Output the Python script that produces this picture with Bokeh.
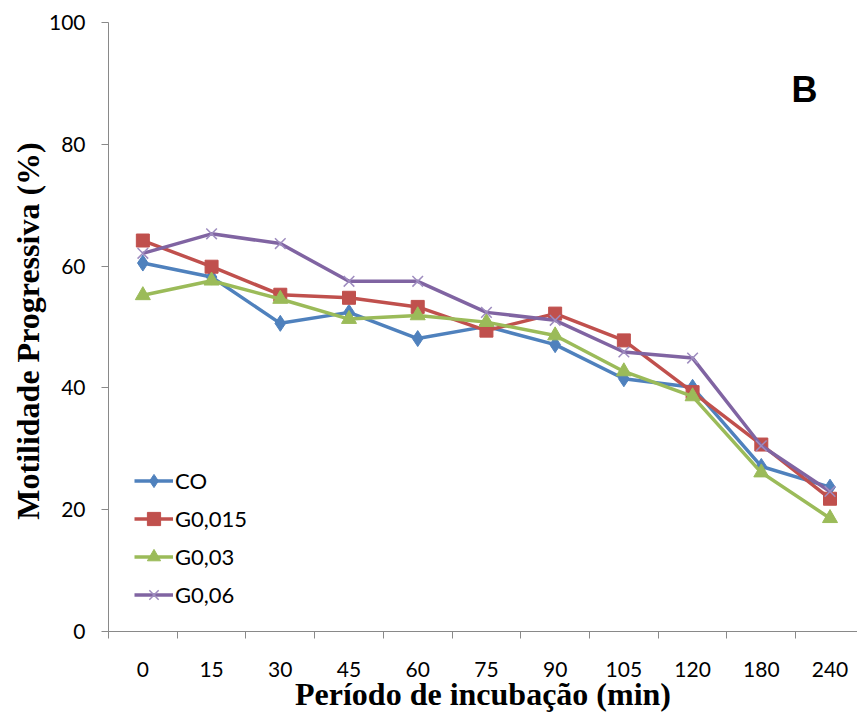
from bokeh.plotting import figure
from bokeh.models import FixedTicker, Range1d, Label
from bokeh.embed import file_html
from bokeh.resources import INLINE

# Incubation periods (min) and progressive motility (%) per treatment
periods = ["0", "15", "30", "45", "60", "75", "90", "105", "120", "180", "240"]
co = [60.5, 58.2, 50.6, 52.4, 48.1, 50.1, 47.1, 41.5, 40.1, 27.1, 23.7]
g0015 = [64.2, 59.9, 55.3, 54.8, 53.3, 49.4, 52.2, 47.8, 39.3, 30.7, 21.8]
g003 = [55.2, 57.6, 54.6, 51.3, 51.9, 50.8, 48.6, 42.7, 38.6, 26.1, 18.6]
g006 = [62.1, 65.3, 63.7, 57.5, 57.5, 52.4, 51.1, 45.9, 44.9, 30.5, 23.0]
y_ticks = [0, 20, 40, 60, 80, 100]

n = len(periods)
xs = list(range(n))

p = figure(width=857, height=718,
           x_range=Range1d(-0.5, n - 0.6), y_range=Range1d(0, 100),
           output_backend="svg", toolbar_location=None,
           min_border_left=108, min_border_right=0,
           min_border_top=22, min_border_bottom=87)
p.outline_line_color = None
p.grid.visible = False
p.background_fill_color = "white"
p.border_fill_color = "white"

axis_grey = "#898989"
tick_font = "Lato"

# category axis: labels at centres, tick marks at category boundaries
xa = p.xaxis[0]
xa.ticker = FixedTicker(ticks=xs, minor_ticks=[i - 0.5 for i in range(n + 1)])
xa.major_label_overrides = {i: lab for i, lab in enumerate(periods)}
xa.major_tick_out = 0
xa.major_tick_in = 0
xa.minor_tick_out = 7
xa.minor_tick_in = 0
xa.minor_tick_line_color = axis_grey
xa.axis_line_color = axis_grey
xa.major_label_text_font = tick_font
xa.major_label_text_font_size = "21px"
xa.major_label_text_color = "black"
xa.major_label_standoff = 23
xa.axis_label = "Período de incubação (min)"
xa.axis_label_text_font = "Liberation Serif"
xa.axis_label_text_font_style = "bold"
xa.axis_label_text_font_size = "32px"
xa.axis_label_text_color = "black"
xa.axis_label_standoff = -4

ya = p.yaxis[0]
ya.ticker = FixedTicker(ticks=y_ticks, minor_ticks=[])
ya.major_tick_out = 7
ya.major_tick_in = 0
ya.major_tick_line_color = axis_grey
ya.axis_line_color = axis_grey
ya.major_label_text_font = tick_font
ya.major_label_text_font_size = "21px"
ya.major_label_text_color = "black"
ya.major_label_standoff = 16
ya.axis_label = "Motilidade Progressiva  (%)"
ya.axis_label_text_font = "Liberation Serif"
ya.axis_label_text_font_style = "bold"
ya.axis_label_text_font_size = "32px"
ya.axis_label_text_color = "black"
ya.axis_label_standoff = 0

series = [
    ("CO", co, "#4F81BD", dict(marker="diamond", size=16)),
    ("G0,015", g0015, "#C0504D", dict(marker="square", size=13)),
    ("G0,03", g003, "#9BBB59", dict(marker="triangle", size=15)),
    ("G0,06", g006, "#8064A2", dict(marker="x", size=15, line_width=1.5)),
]

for name, vals, color, mk in series:
    p.line(xs, vals, line_color=color, line_width=3.5, legend_label=name)
    if mk["marker"] == "x":
        p.scatter(xs, vals, line_color="#9e8cbf", fill_color=None,
                  legend_label=name, **mk)
    else:
        p.scatter(xs, vals, fill_color=color, line_color=color,
                  legend_label=name, **mk)

lg = p.legend[0]
lg.location = (26, 20)
lg.border_line_color = None
lg.background_fill_alpha = 0
lg.padding = 0
lg.margin = 0
lg.spacing = 5
lg.glyph_width = 39
lg.glyph_height = 33
lg.label_standoff = 2
lg.label_text_font = tick_font
lg.label_text_font_size = "22px"
lg.label_text_color = "black"

p.add_layout(Label(x=683, y=522, x_units="screen", y_units="screen",
                   text="B", text_font="Liberation Sans",
                   text_font_style="bold", text_font_size="36px",
                   text_color="black"))

open("out.html", "w").write(file_html(p, INLINE))
